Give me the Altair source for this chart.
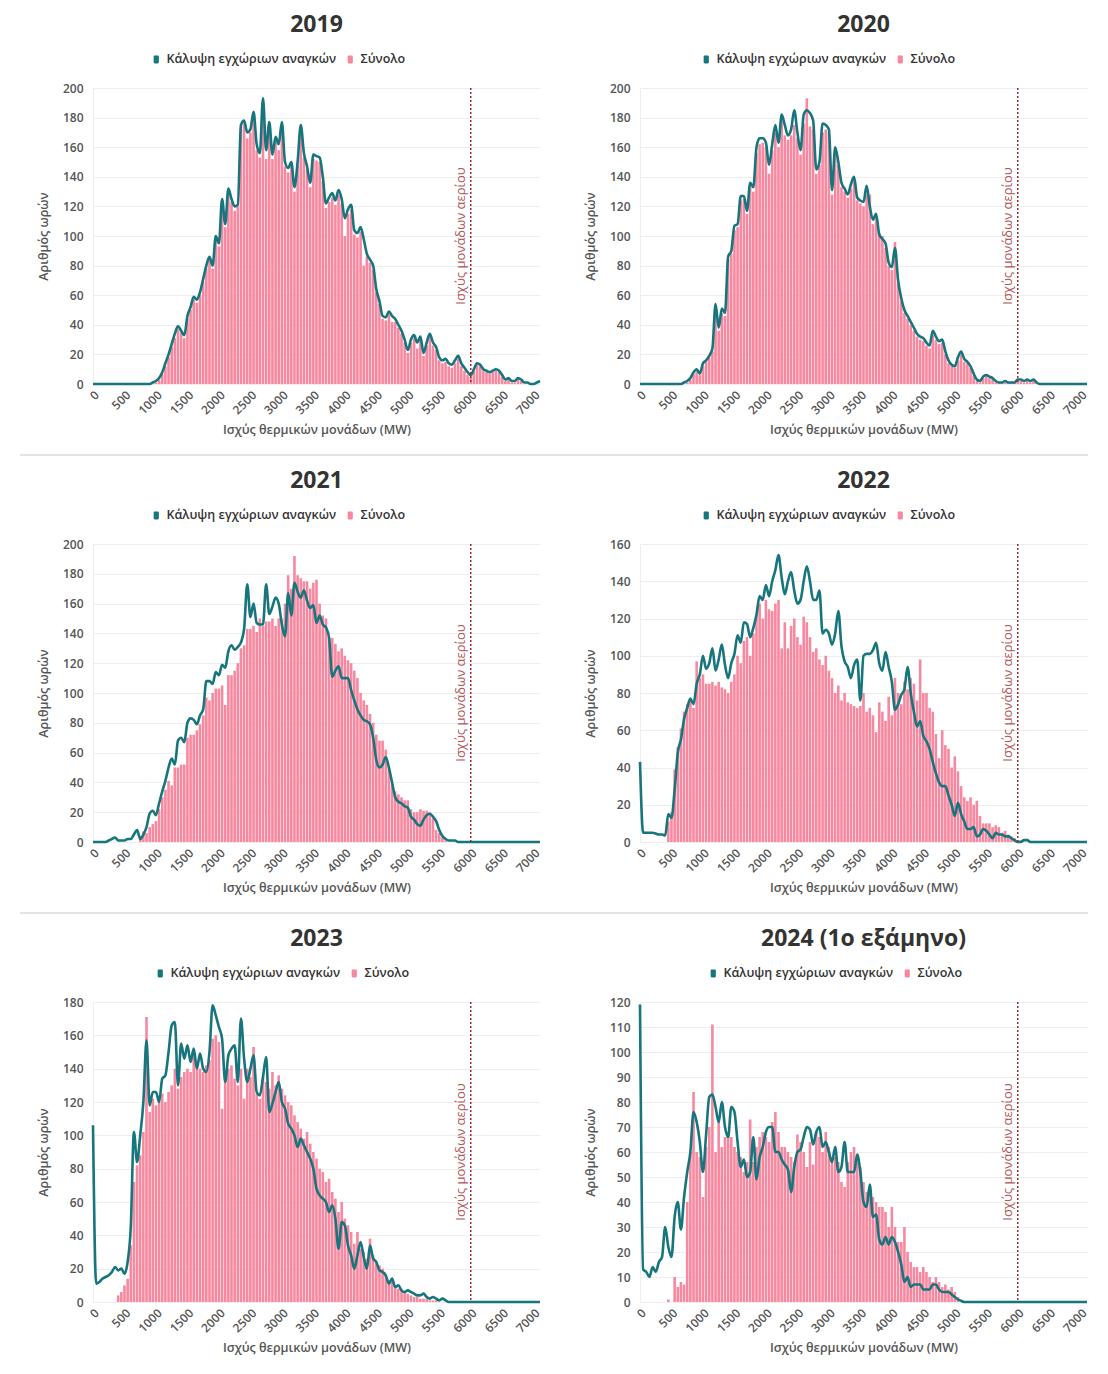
import altair as alt
import pandas as pd

FONT = "Open Sans"
TEAL = "#17757d"
PINK = "#f7889f"
GAS_COLOR = "#9e2a2b"
KALYPSI = "Κάλυψη εγχώριων αναγκών"
SYNOLO = "Σύνολο"
XTITLE = "Ισχύς θερμικών μονάδων (MW)"
YTITLE = "Αριθμός ωρών"
GAS_LABEL = "Ισχύς μονάδων αερίου"
GAS_MW = 6000

# bin starts (MW): 0, 50, ..., 7100
MW = list(range(0, 7101, 50))
XTICKS = list(range(0, 7001, 500))

TITLES = ["2019", "2020", "2021", "2022", "2023", "2024 (1ο εξάμηνο)"]
YMAX = [200, 200, 200, 160, 180, 120]
YSTEP = [20, 20, 20, 20, 20, 10]

# ---- 2019 ----
line_2019 = [
    0, 0, 0, 0, 0, 0, 0, 0, 0, 0,
    0, 0, 0, 0, 0, 0, 0, 0, 0, 1,
    2, 4, 8, 14, 20, 27, 34, 39, 36, 33,
    46, 52, 59, 57, 62, 71, 80, 86, 80, 100,
    95, 125, 108, 132, 125, 120, 121, 175, 178, 170,
    172, 184, 162, 156, 193, 158, 177, 155, 167, 162,
    177, 150, 146, 150, 133, 150, 175, 156, 147, 136,
    155, 154, 153, 140, 122, 126, 129, 124, 131, 125,
    112, 118, 121, 104, 102, 106, 98, 88, 84, 80,
    64, 56, 46, 45, 49, 46, 44, 40, 36, 30,
    23, 30, 33, 28, 32, 21, 28, 34, 28, 25,
    18, 16, 17, 14, 13, 16, 19, 14, 11, 8,
    6, 10, 14, 13, 10, 9, 8, 9, 10, 9,
    6, 3, 4, 2, 2, 4, 3, 1, 1, 0,
    0, 1, 2,
]
bars_2019 = [
    0, 0, 0, 0, 0, 0, 0, 0, 0, 0,
    0, 0, 0, 0, 0, 0, 0, 0, 0, 0,
    1, 3, 7, 12, 18, 25, 31, 37, 35, 31,
    44, 50, 57, 55, 60, 69, 78, 84, 78, 97,
    93, 122, 106, 129, 123, 117, 120, 172, 176, 166,
    170, 181, 158, 153, 190, 152, 174, 152, 164, 158,
    175, 147, 143, 147, 130, 148, 172, 153, 145, 133,
    152, 151, 150, 137, 119, 123, 126, 121, 128, 122,
    100, 115, 118, 101, 99, 103, 80, 86, 82, 77,
    62, 54, 44, 43, 47, 42, 42, 38, 34, 28,
    21, 28, 31, 24, 30, 19, 26, 32, 26, 23,
    16, 14, 15, 12, 11, 14, 17, 12, 9, 6,
    5, 9, 13, 12, 9, 8, 7, 8, 9, 8,
    5, 2, 3, 1, 1, 3, 2, 0, 0, 0,
    0, 0, 0,
]

# ---- 2020 ----
line_2020 = [
    0, 0, 0, 0, 0, 0, 0, 0, 0, 0,
    0, 0, 0, 0, 1, 2, 4, 8, 10, 7,
    14, 16, 19, 24, 54, 38, 51, 48, 86, 90,
    107, 108, 127, 127, 117, 136, 133, 160, 166, 166,
    163, 148, 162, 175, 163, 182, 175, 168, 172, 185,
    170, 158, 182, 185, 183, 178, 145, 150, 176, 175,
    172, 131, 160, 150, 136, 132, 128, 135, 140, 126,
    124, 123, 134, 120, 111, 115, 101, 98, 95, 82,
    79, 92, 70, 58, 50, 46, 42, 38, 34, 32,
    31, 28, 26, 36, 32, 29, 30, 22, 16, 13,
    12, 18, 22, 17, 15, 12, 7, 3, 2, 5,
    6, 5, 4, 2, 1, 1, 2, 1, 1, 1,
    3, 3, 2, 3, 2, 3, 1, 0, 0, 0,
    0, 0, 0, 0, 0, 0, 0, 0, 0, 0,
    0, 0, 0,
]
bars_2020 = [
    0, 0, 0, 0, 0, 0, 0, 0, 0, 0,
    0, 0, 0, 0, 0, 1, 3, 7, 9, 6,
    12, 15, 18, 22, 48, 36, 48, 46, 84, 88,
    104, 106, 124, 125, 115, 133, 130, 156, 162, 163,
    160, 142, 158, 170, 160, 178, 168, 165, 168, 175,
    166, 155, 176, 193, 174, 172, 142, 148, 170, 172,
    170, 128, 156, 148, 133, 130, 126, 132, 138, 124,
    122, 120, 128, 128, 108, 112, 102, 100, 92, 80,
    77, 96, 68, 56, 48, 44, 40, 36, 32, 30,
    29, 26, 24, 33, 30, 27, 28, 20, 14, 12,
    11, 16, 20, 15, 14, 11, 6, 2, 1, 4,
    5, 4, 3, 1, 1, 1, 1, 1, 1, 1,
    2, 2, 1, 2, 1, 2, 1, 0, 0, 0,
    0, 0, 0, 0, 0, 0, 0, 0, 0, 0,
    0, 0, 0,
]

# ---- 2021 ----
line_2021 = [
    0, 0, 0, 0, 0, 1, 2, 3, 1, 1,
    1, 2, 2, 5, 8, 2, 5, 10, 19, 21,
    18, 26, 34, 41, 50, 56, 52, 68, 70, 67,
    80, 83, 82, 79, 85, 89, 108, 108, 106, 114,
    112, 119, 117, 128, 132, 129, 131, 134, 143, 173,
    151, 160, 147, 146, 146, 173, 153, 158, 164, 160,
    146, 138, 167, 152, 174, 168, 164, 169, 162, 157,
    159, 147, 152, 146, 144, 137, 111, 115, 118, 110,
    110, 110, 102, 95, 89, 85, 82, 81, 79, 70,
    55, 50, 52, 57, 50, 40, 30, 27, 26, 24,
    23, 17, 15, 12, 11, 15, 18, 19, 17, 14,
    8, 4, 2, 1, 1, 1, 0, 0, 0, 0,
    0, 0, 0, 0, 0, 0, 0, 0, 0, 0,
    0, 0, 0, 0, 0, 0, 0, 0, 0, 0,
    0, 0, 0,
]
bars_2021 = [
    0, 0, 0, 0, 0, 0, 0, 0, 0, 0,
    0, 0, 0, 0, 0, 4, 7, 6, 10, 12,
    14, 22, 30, 35, 41, 38, 50, 50, 52, 52,
    70, 72, 72, 75, 79, 85, 97, 95, 100, 103,
    103, 105, 92, 112, 112, 115, 120, 130, 132, 143,
    143, 145, 141, 150, 145, 148, 148, 150, 145, 150,
    150, 160, 179, 170, 192, 179, 177, 175, 175, 170,
    174, 176, 160, 152, 150, 137, 137, 133, 128, 130,
    125, 122, 120, 115, 110, 100, 95, 92, 86, 80,
    72, 68, 68, 62, 50, 38, 34, 32, 30, 28,
    28, 22, 20, 20, 22, 21, 21, 20, 16, 8,
    6, 3, 1, 0, 0, 0, 0, 0, 0, 0,
    0, 0, 0, 0, 0, 0, 0, 0, 0, 0,
    0, 0, 0, 0, 0, 0, 0, 0, 0, 0,
    0, 0, 0,
]

# ---- 2022 ----
line_2022 = [
    43, 5, 5, 5, 5, 4.5, 4, 4, 3.5, 15,
    13, 28, 48, 55, 66, 72, 77, 74, 85, 90,
    100, 93, 96, 104, 92, 98, 106, 95, 88, 96,
    101, 111, 107, 118, 117, 110, 115, 122, 132, 130,
    138, 132, 140, 146, 154, 142, 133, 140, 145, 135,
    128, 130, 140, 148, 140, 130, 130, 135, 112, 114,
    112, 106, 112, 124, 105, 97, 94, 88, 95, 98,
    76, 100, 101, 101, 103, 107, 96, 92, 102, 94,
    86, 71, 74, 79, 82, 94, 80, 70, 62, 65,
    57, 54, 50, 43, 37, 32, 30, 30, 25, 20,
    14, 21, 15, 11, 7, 7, 8, 3, 4, 7,
    6, 4, 2, 5, 4, 4, 3, 3, 2, 1,
    0, 0, 1, 1, 0, 0, 0, 0, 0, 0,
    0, 0, 0, 0, 0, 0, 0, 0, 0, 0,
    0, 0, 0,
]
bars_2022 = [
    0, 0, 0, 0, 0, 0, 0, 0, 0, 11,
    16, 39, 51, 61, 70, 74, 76, 72, 97, 88,
    90, 85, 85, 86, 84, 86, 83, 82, 80, 86,
    90, 100, 96, 108, 110, 100, 112, 122, 128, 120,
    130, 125, 124, 128, 130, 104, 118, 104, 116, 120,
    110, 106, 121, 118, 110, 102, 104, 98, 95, 100,
    92, 88, 80, 84, 76, 80, 75, 74, 73, 72,
    73, 80, 70, 72, 68, 59, 75, 70, 65, 78,
    68, 88, 80, 74, 86, 82, 88, 85, 76, 98,
    80, 80, 72, 70, 58, 45, 60, 52, 50, 40,
    46, 38, 30, 24, 22, 24, 20, 22, 14, 10,
    10, 10, 8, 9, 8, 5, 6, 4, 3, 2,
    1, 1, 0, 0, 0, 0, 0, 0, 0, 0,
    0, 0, 0, 0, 0, 0, 0, 0, 0, 0,
    0, 0, 0,
]

# ---- 2023 ----
line_2023 = [
    106, 11, 12, 14, 15, 16, 18, 21, 19, 20,
    17, 24, 45, 102, 84, 100, 120, 157, 118, 126,
    126, 120, 134, 136, 150, 166, 168, 130, 155, 146,
    154, 144, 152, 140, 149, 140, 138, 150, 178, 172,
    165, 158, 132, 148, 152, 154, 132, 170, 146, 132,
    140, 148, 126, 124, 135, 147, 114, 119, 126, 132,
    120, 116, 107, 104, 100, 93, 98, 94, 90, 86,
    80, 68, 64, 62, 60, 54, 58, 50, 32, 48,
    46, 34, 28, 20, 28, 36, 27, 20, 34, 26,
    24, 19, 18, 16, 11, 14, 9, 10, 7, 6,
    7, 6, 5, 4, 4, 5, 3, 2, 3, 2,
    1, 2, 1, 0, 0, 0, 0, 0, 0, 0,
    0, 0, 0, 0, 0, 0, 0, 0, 0, 0,
    0, 0, 0, 0, 0, 0, 0, 0, 0, 0,
    0, 0, 0,
]
bars_2023 = [
    0, 0, 0, 0, 0, 0, 0, 0, 4, 6,
    10, 14, 34, 72, 82, 88, 102, 171, 114, 122,
    118, 122, 125, 120, 126, 130, 140, 128, 135, 138,
    140, 138, 151, 142, 140, 138, 142, 145, 158, 160,
    156, 116, 138, 140, 142, 134, 130, 140, 122, 140,
    135, 153, 125, 122, 135, 132, 128, 138, 130, 136,
    128, 124, 120, 118, 112, 108, 104, 98, 102, 95,
    90, 86, 80, 78, 72, 74, 66, 62, 54, 60,
    50, 46, 42, 35, 42, 32, 30, 26, 38, 28,
    24, 22, 20, 16, 13, 12, 10, 8, 7, 6,
    5, 4, 3, 3, 2, 2, 2, 1, 1, 1,
    0, 0, 0, 0, 0, 0, 0, 0, 0, 0,
    0, 0, 0, 0, 0, 0, 0, 0, 0, 0,
    0, 0, 0, 0, 0, 0, 0, 0, 0, 0,
    0, 0, 0,
]

# ---- 2024 (1st half) ----
line_2024 = [
    119, 13, 12, 10, 14, 12, 16, 18, 30, 22,
    18, 34, 40, 29, 42, 52, 60, 76, 72, 64,
    52, 67, 82, 83, 78, 72, 80, 70, 66, 78,
    76, 64, 54, 57, 50, 52, 66, 49, 58, 62,
    68, 70, 70, 60, 60, 57, 55, 53, 44, 54,
    60, 61, 66, 70, 69, 63, 68, 70, 62, 64,
    60, 56, 62, 52, 54, 64, 52, 52, 52, 59,
    52, 40, 38, 47, 34, 35, 25, 23, 26, 23,
    26, 24, 20, 15, 8, 10, 6, 7, 7, 7,
    5, 5, 5, 7, 7, 5, 4, 4, 4, 3,
    2, 1, 0.5, 0, 0, 0, 0, 0, 0, 0,
    0, 0, 0, 0, 0, 0, 0, 0, 0, 0,
    0, 0, 0, 0, 0, 0, 0, 0, 0, 0,
    0, 0, 0, 0, 0, 0, 0, 0, 0, 0,
    0, 0, 0,
]
bars_2024 = [
    0, 0, 0, 0, 0, 0, 0, 0, 0, 1,
    0, 10, 6, 8, 7, 40, 60, 84, 60, 58,
    42, 62, 70, 111, 60, 72, 62, 66, 68, 66,
    62, 60, 58, 52, 56, 73, 56, 62, 66, 68,
    66, 64, 72, 76, 68, 62, 62, 60, 58, 56,
    67, 64, 60, 54, 64, 55, 68, 66, 60, 68,
    62, 56, 58, 56, 48, 46, 56, 60, 62, 58,
    54, 48, 44, 46, 42, 40, 38, 38, 36, 30,
    38, 30, 24, 24, 30, 20, 16, 14, 14, 12,
    14, 12, 10, 8, 10, 8, 6, 7, 5, 6,
    4, 2, 0, 0, 0, 0, 0, 0, 0, 0,
    0, 0, 0, 0, 0, 0, 0, 0, 0, 0,
    0, 0, 0, 0, 0, 0, 0, 0, 0, 0,
    0, 0, 0, 0, 0, 0, 0, 0, 0, 0,
    0, 0, 0,
]

LINES = [line_2019, line_2020, line_2021, line_2022, line_2023, line_2024]
BARS = [bars_2019, bars_2020, bars_2021, bars_2022, bars_2023, bars_2024]

W = 447
HEIGHTS = [296, 296, 298, 298, 300, 300]
LEGEND_X = [57, 60, 57, 60, 61, 67]
SEPARATOR = [True, False, True, False, False, False]

SYMBOL = ("M-0.35,-1 H0.35 A0.3,0.3 0 0 1 0.65,-0.7 V0.7 A0.3,0.3 0 0 1 0.35,1 "
          "H-0.35 A0.3,0.3 0 0 1 -0.65,0.7 V-0.7 A0.3,0.3 0 0 1 -0.35,-1 Z")


def panel(i):
    h = HEIGHTS[i]
    df = pd.DataFrame({"mw": MW, "bar": BARS[i], "line": LINES[i]})
    df["series"] = SYNOLO
    gas = pd.DataFrame({"gas": [GAS_MW]})

    xscale = alt.Scale(domain=[0, 7100], nice=False, zero=False, padding=0)
    xaxis = alt.Axis(values=XTICKS, labelAngle=-45, grid=False, ticks=False,
                     domain=False, labelPadding=5, titlePadding=7, format="d",
                     labelFlush=False)
    yscale = alt.Scale(domain=[0, YMAX[i]], nice=False)
    yaxis = alt.Axis(values=list(range(0, YMAX[i] + 1, YSTEP[i])), ticks=False,
                     labelPadding=10, titlePadding=12, format="d")

    bars = alt.Chart(df).mark_bar(size=2.6, color=PINK).encode(
        x=alt.X("mw:Q", scale=xscale, axis=xaxis, title=XTITLE),
        y=alt.Y("bar:Q", scale=yscale, axis=yaxis, title=YTITLE),
        color=alt.Color(
            "series:N",
            scale=alt.Scale(domain=[KALYPSI, SYNOLO], range=[TEAL, PINK]),
            legend=alt.Legend(
                orient="none", legendX=LEGEND_X[i], legendY=-35,
                direction="horizontal", title=None, symbolType=SYMBOL,
                symbolSize=64, symbolStrokeWidth=0, labelFontSize=12.5,
                labelFont=FONT, labelColor="#333333", labelFontWeight=600,
                columnPadding=8, labelOffset=4, labelLimit=400,
            ),
        ),
    )
    line = alt.Chart(df).mark_line(color=TEAL, strokeWidth=2.6,
                                   interpolate="monotone").encode(
        x=alt.X("mw:Q", scale=xscale, axis=xaxis, title=XTITLE),
        y=alt.Y("line:Q", scale=yscale, axis=yaxis, title=YTITLE),
    )
    rule = alt.Chart(gas).mark_rule(color=GAS_COLOR, strokeDash=[2, 2],
                                    strokeWidth=1.5).encode(
        x=alt.X("gas:Q", scale=xscale, axis=xaxis, title=XTITLE),
    )
    label = alt.Chart(gas).mark_text(
        angle=270, align="center", baseline="bottom", dy=-3,
        color="#b0575a", fontSize=13, font=FONT,
    ).encode(
        x=alt.X("gas:Q", scale=xscale, axis=xaxis, title=XTITLE),
        y=alt.value(h / 2),
        text=alt.value(GAS_LABEL),
    )
    layers = [bars, line, rule, label]
    if SEPARATOR[i]:
        sep = alt.Chart(gas).mark_rule(color="#e4e4e4", strokeWidth=2).encode(
            x=alt.value(-73), x2=alt.value(995), y=alt.value(h + 71),
        )
        layers.append(sep)
    return alt.layer(*layers).properties(
        width=W, height=h,
        title=alt.TitleParams(TITLES[i], fontSize=23, fontWeight="bold",
                              color="#333333", font=FONT, anchor="middle",
                              offset=16),
    )


chart = alt.concat(
    *[panel(i) for i in range(6)],
    columns=2, bounds="flush", spacing={"row": 160, "column": 100},
).resolve_scale(
    x="independent", y="independent", color="independent"
).resolve_legend(color="independent").properties(
    padding={"left": 11, "top": 6, "right": 4, "bottom": 2}
).configure_view(stroke=None).configure_axis(
    labelFont=FONT, titleFont=FONT, labelColor="#555555", titleColor="#555555",
    labelFontSize=12, titleFontSize=12.5, labelFontWeight=600,
    titleFontWeight=600, gridColor="#eeeeee", domainColor="#eeeeee",
).configure_axisY(domain=True)

chart.save("out.html", embed_options={"renderer": "svg", "actions": False})
